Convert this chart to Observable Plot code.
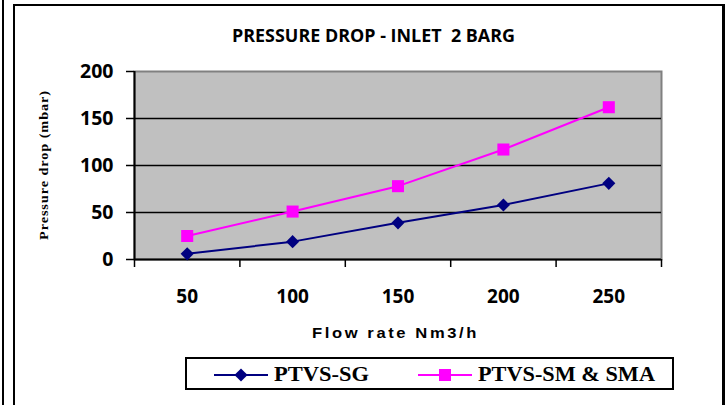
<!DOCTYPE html>
<html><head><meta charset="utf-8">
<script src="https://cdn.jsdelivr.net/npm/d3@7"></script>
<script src="https://cdn.jsdelivr.net/npm/@observablehq/plot@0.6"></script>
<style>
html,body{margin:0;padding:0;background:#fff;}
#wrap{position:relative;width:726px;height:405px;overflow:hidden;background:#fff;}
.abs{position:absolute;white-space:pre;line-height:1;}
#lineA{left:2px;top:0;width:2px;height:405px;background:#000;}
#frame{left:13px;top:4px;width:712px;height:430px;border:2px solid #000;border-right-width:3px;box-sizing:border-box;}
#title{font-family:"Open Sans",sans-serif;font-weight:700;font-size:17px;color:#000;transform-origin:0 50%;}
#xlabel{font-family:"Liberation Sans",Arial,sans-serif;font-weight:700;font-size:14px;letter-spacing:2.2px;color:#000;transform-origin:0 50%;}
#ylabel{font-family:"Liberation Serif","Times New Roman",serif;font-weight:700;font-size:13px;letter-spacing:0.8px;color:#000;}
#legend{left:185px;top:357px;width:489px;height:33px;border:2px solid #000;box-sizing:border-box;background:#fff;}
.ltext{font-family:"Liberation Serif","Times New Roman",serif;font-weight:700;font-size:21px;color:#000;transform-origin:0 50%;}
#chart{left:0;top:55px;}
</style>
</head><body>
<div id="wrap">
  <div id="lineA" class="abs"></div>
  <div id="frame" class="abs"></div>
  <div id="title" class="abs"></div>
  <div id="chart" class="abs"></div>
  <div id="ylabel" class="abs"></div>
  <div id="xlabel" class="abs"></div>
</div>
<script>
const flowRates = [50, 100, 150, 200, 250];
const ptvsSG = [6, 19, 39, 58, 81];
const ptvsSM = [25, 51, 78, 117, 162];
const yTicks = [0, 50, 100, 150, 200];
const seriesNames = ["PTVS-SG", "PTVS-SM & SMA"];
const seriesColors = ["#000080", "#FF00FF"];
const seriesSymbols = ["diamond2", "square"];
const titleText = "PRESSURE DROP - INLET  2 BARG";
const xLabelText = "Flow rate Nm3/h";
const yLabelText = "Pressure drop (mbar)";

const data = flowRates.flatMap((f, i) => [
  {flow: f, value: ptvsSG[i], series: seriesNames[0]},
  {flow: f, value: ptvsSM[i], series: seriesNames[1]}
]);
const step = flowRates[1] - flowRates[0];
const xDomain = [flowRates[0] - step / 2, flowRates[flowRates.length - 1] + step / 2];
const boundaries = d3.range(flowRates.length + 1).map(i => xDomain[0] + i * step);
const tickFont = "'Open Sans', sans-serif";

const chart = Plot.plot({
  width: 726, height: 260,
  marginLeft: 134, marginRight: 65, marginTop: 16, marginBottom: 56,
  style: {background: "transparent", overflow: "visible", color: "#000"},
  x: {domain: xDomain},
  y: {domain: [yTicks[0], yTicks[yTicks.length - 1]]},
  color: {domain: seriesNames, range: seriesColors},
  marks: [
    Plot.frame({fill: "#C0C0C0", stroke: "#808080", strokeWidth: 2}),
    Plot.gridY(yTicks.slice(1, -1), {stroke: "#000", strokeOpacity: 1, strokeWidth: 1.6}),
    Plot.axisY(yTicks, {tickSize: 8, tickPadding: 13, fontSize: 19.5, fontWeight: "bold", fontFamily: tickFont, label: null, strokeWidth: 1.5}),
    Plot.ruleX([xDomain[0]], {stroke: "#000", strokeWidth: 2}),
    Plot.ruleY([yTicks[0]], {stroke: "#000", strokeWidth: 2}),
    Plot.axisX(boundaries, {tickSize: 8, tickFormat: () => "", label: null, strokeWidth: 1.5}),
    Plot.axisX(flowRates, {tickSize: 0, tickPadding: 30, fontSize: 19, fontWeight: "bold", fontFamily: tickFont, label: null}),
    Plot.line(data, {x: "flow", y: "value", stroke: "series", strokeWidth: 2}),
    Plot.dot(data.filter(d => d.series === seriesNames[0]), {x: "flow", y: "value", symbol: seriesSymbols[0], r: 5.9, fill: seriesColors[0], stroke: "none"}),
    Plot.dot(data.filter(d => d.series === seriesNames[1]), {x: "flow", y: "value", symbol: seriesSymbols[1], r: 6.8, fill: seriesColors[1], stroke: "none"})
  ]
});
document.getElementById("chart").appendChild(chart);

function fit(el, w) {
  const r = el.getBoundingClientRect().width;
  el.style.transform = `scaleX(${w / r})`;
}

const title = document.getElementById("title");
title.textContent = titleText;
title.style.left = "232px"; title.style.top = "27px";
fit(title, 283);

const xl = document.getElementById("xlabel");
xl.textContent = xLabelText;
xl.style.left = "312px"; xl.style.top = "326px";
fit(xl, 167);

const yl = document.getElementById("ylabel");
yl.textContent = yLabelText;
const ylw = yl.getBoundingClientRect().width;
yl.style.left = "43px"; yl.style.top = "165px";
yl.style.transform = `translate(-50%,-50%) rotate(-90deg) scaleX(${150 / ylw})`;

// legend
const wrap = document.getElementById("wrap");
const legend = document.createElement("div");
legend.id = "legend"; legend.className = "abs";
wrap.appendChild(legend);
const swatchLeft = [212, 416];
const textLeft = [272, 476];
const textWidth = [95, 177];
seriesNames.forEach((name, i) => {
  const sw = d3.create("svg").attr("width", 54).attr("height", 16)
    .style("position", "absolute").style("left", (swatchLeft[i] - 185) + "px").style("top", (373 - 8 - 357) + "px");
  sw.append("line").attr("x1", 0).attr("x2", 54).attr("y1", 8).attr("y2", 8)
    .attr("stroke", seriesColors[i]).attr("stroke-width", 2);
  const sym = seriesSymbols[i] === "square" ? d3.symbolSquare : d3.symbolDiamond2;
  const size = i === 0 ? Math.PI * 5.9 * 5.9 : Math.PI * 6.8 * 6.8;
  sw.append("path").attr("d", d3.symbol(sym, size)()).attr("transform", "translate(27,8)").attr("fill", seriesColors[i]);
  legend.appendChild(sw.node());
  const t = document.createElement("div");
  t.className = "abs ltext";
  t.textContent = name;
  t.style.left = (textLeft[i] - 185) + "px";
  t.style.top = (362 - 357) + "px";
  legend.appendChild(t);
  fit(t, textWidth[i]);
});
</script>
</body></html>
